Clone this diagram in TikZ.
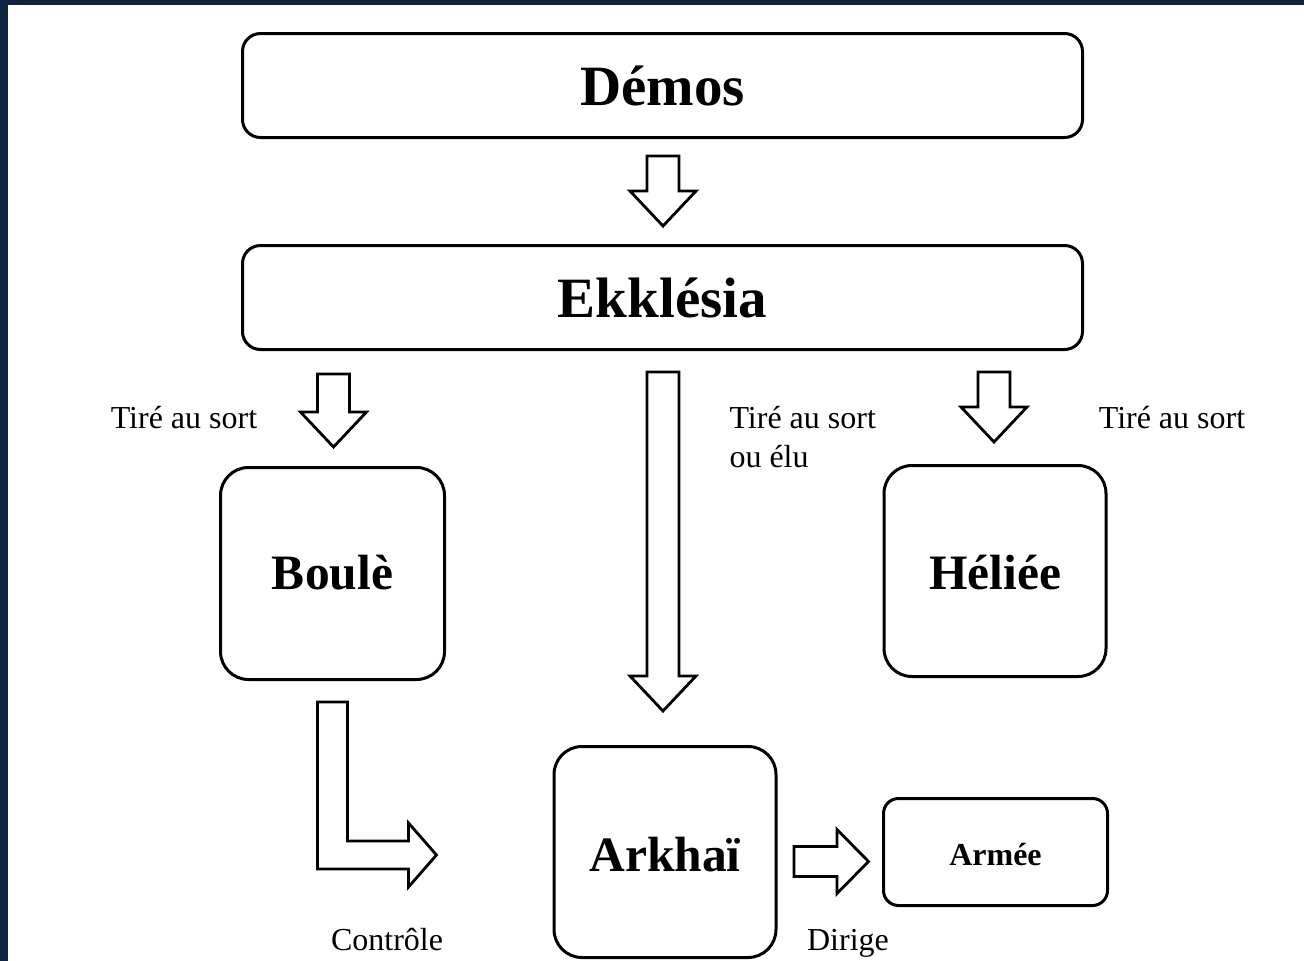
\documentclass[tikz,border=0pt]{standalone}
\usepackage{fontspec}
\setmainfont{Liberation Serif}
\usetikzlibrary{calc}
\definecolor{frame}{RGB}{15,36,64}
\tikzset{
  box/.style={draw, line width=3pt, rounded corners=#1, fill=white, inner sep=0pt},
  bigtxt/.style={font=\fontsize{57}{60}\selectfont\bfseries},
  midtxt/.style={font=\fontsize{49.5}{52}\selectfont\bfseries},
  smalltxt/.style={font=\fontsize{32}{39}\selectfont},
  blk/.style={draw, line width=2.8pt, fill=white, line join=miter, miter limit=10},
}
\newcommand\dnarrow[2]{\draw[blk] (#1) ++(-16,0) -- ++(32,0) -- ++(0,#2-35) -- ++(17,0) -- ++(-33,35) -- ++(-33,-35) -- ++(17,0) -- cycle;}
\begin{document}
\begin{tikzpicture}[x=1pt,y=-1pt]
\useasboundingbox (0,0) rectangle (1304,961);
\fill[frame] (0,0) rectangle (1304,961);
\fill[white] (8,5) rectangle (1304,961);

\node[box=18pt, minimum width=840, minimum height=104, bigtxt] (demos) at (662.5,85.5) {Démos};
\node[box=18pt, minimum width=840, minimum height=104, bigtxt] (ekk) at (662.5,297.5) {Ekklésia};
\node[box=28pt, minimum width=224, minimum height=212, midtxt, text height=40pt, text depth=8pt] (boule) at (332.5,573.5) {Boulè};
\node[box=28pt, minimum width=222, minimum height=211, midtxt, text height=42pt, text depth=5pt] (heliee) at (995,571) {Héliée};
\node[box=28pt, minimum width=222, minimum height=211, midtxt, text height=43pt, text depth=4pt] (arkhai) at (665,852) {Arkhaï};
\node[box=15pt, minimum width=224, minimum height=107, font=\fontsize{32}{36}\selectfont\bfseries, text height=30pt, text depth=3pt] (armee) at (995.5,852) {Armée};

\node[smalltxt] (t1) at (184,418) {Tiré au sort};
\node[smalltxt, anchor=west, align=left] (t2) at (726,437) {Tiré au sort\\ou élu};
\node[smalltxt] (t3) at (1172,418) {Tiré au sort};
\node[smalltxt] (ctrl) at (387,940) {Contrôle};
\node[smalltxt] (dir) at (848,943) {Dirige};

% block arrows
\dnarrow{$(demos.south)+(0.5,17)$}{70}
\dnarrow{$(boule.north)+(1,-92)$}{73}
\dnarrow{$(arkhai.north)+(-2,-373)$}{339}
\dnarrow{$(heliee.north)+(-1,-92)$}{70}

\draw[blk] ($(boule.south)+(-15,21)$) -- ++(30,0) -- ++(0,139) -- ++(61,0) -- ++(0,-18)
  -- ++(28,32) -- ++(-28,32) -- ++(0,-18) -- ++(-91,0) -- cycle;

\draw[blk] ($(armee.west)+(-88,-5.5)$) -- ++(43,0) -- ++(0,-17) -- ++(31.5,32)
  -- ++(-31.5,32) -- ++(0,-17) -- ++(-43,0) -- cycle;
\end{tikzpicture}
\end{document}
